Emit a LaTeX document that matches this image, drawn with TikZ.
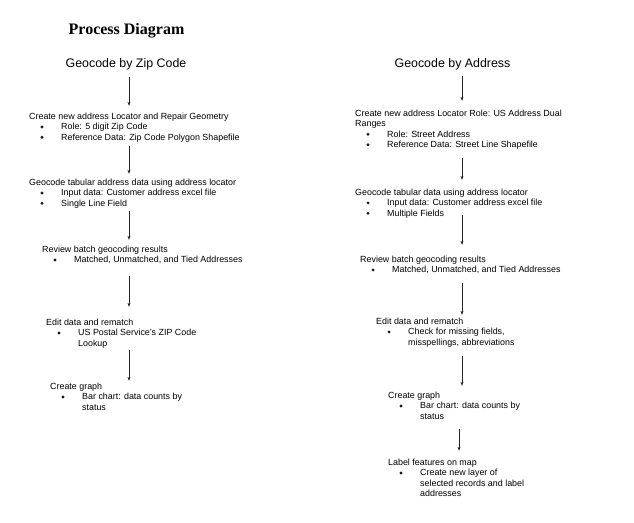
\documentclass[tikz,border=0pt]{standalone}
\usepackage{fontspec}
\setmainfont{Liberation Sans}
\newfontfamily\titlefont{Liberation Serif}
\usetikzlibrary{arrows.meta}
\newcommand\bitem[1]{\hspace*{32pt}#1}
\newcommand\bcont[1]{\hspace*{32pt}#1}
\newcommand\blines[1]{\begin{tabular}[t]{@{}l@{}}#1\end{tabular}}
\begin{document}
\begin{tikzpicture}[x=1pt,y=-1pt,
  blk/.style={anchor=base west, inner sep=0pt, font=\fontsize{8.9}{10.4}\selectfont},
  hd/.style={anchor=base, inner sep=0pt, font=\fontsize{12.4}{14}\selectfont},
  ttl/.style={anchor=base, inner sep=0pt, font=\titlefont\bfseries\fontsize{16}{18}\selectfont},
  bul/.style={fill=black!90},
  arr/.style={draw=black!85, line width=0.6pt, -{Stealth[length=4pt,width=3pt]}}]
\useasboundingbox (0,0) rectangle (634,522);
\fill[white] (0,0) rectangle (634,522);

\node[ttl] (title) at (126.5,34) {Process Diagram};

\coordinate (xL) at (129,0);
\coordinate (xR) at (462,0);
\coordinate (xR2) at (459,0);

% Left column
\node[hd] (hL) at (126,67) {Geocode by Zip Code};
\node[blk] (bL1) at (29,119.5) {\blines{Create new address Locator and Repair Geometry\\
  \bitem{Role: 5 digit Zip Code}\\
  \bitem{Reference Data: Zip Code Polygon Shapefile}}};
\node[blk] (bL2) at (29,185.5) {\blines{Geocode tabular address data using address locator\\
  \bitem{Input data: Customer address excel file}\\
  \bitem{Single Line Field}}};
\node[blk] (bL3) at (42,252.5) {\blines{Review batch geocoding results\\
  \bitem{Matched, Unmatched, and Tied Addresses}}};
\node[blk] (bL4) at (46,325.5) {\blines{Edit data and rematch\\
  \bitem{US Postal Service's ZIP Code}\\
  \bcont{Lookup}}};
\node[blk] (bL5) at (50,389.5) {\blines{Create graph\\
  \bitem{Bar chart: data counts by}\\
  \bcont{status}}};

\foreach \b/\n in {bL1/1,bL1/2,bL2/1,bL2/2,bL3/1,bL4/1,bL5/1}
  \fill[bul] ([shift={(13,-3+10.4*\n)}]\b.base west) circle (1.6pt);

\draw[arr, shorten <=7.4pt, shorten >=6.2pt] (hL.south -| xL) -- (bL1.north -| xL);
\draw[arr, shorten <=2.6pt, shorten >=4.2pt] (bL1.south -| xL) -- (bL2.north -| xL);
\draw[arr, shorten <=1.6pt, shorten >=5.2pt] (bL2.south -| xL) -- (bL3.north -| xL);
\draw[arr, shorten <=10pt, shorten >=11.2pt] (bL3.south -| xL) -- (bL4.north -| xL);
\draw[arr, shorten <=0.6pt, shorten >=1.2pt] (bL4.south -| xL) -- (bL5.north -| xL);

% Right column
\node[hd] (hR) at (452.5,67) {Geocode by Address};
\node[blk] (bR1) at (355,116.5) {\blines{Create new address Locator Role: US Address Dual\\
  Ranges\\
  \bitem{Role: Street Address}\\
  \bitem{Reference Data: Street Line Shapefile}}};
\node[blk] (bR2) at (355,195.5) {\blines{Geocode tabular data using address locator\\
  \bitem{Input data: Customer address excel file}\\
  \bitem{Multiple Fields}}};
\node[blk] (bR3) at (360,262.5) {\blines{Review batch geocoding results\\
  \bitem{Matched, Unmatched, and Tied Addresses}}};
\node[blk] (bR4) at (376,324.5) {\blines{Edit data and rematch\\
  \bitem{Check for missing fields,}\\
  \bcont{misspellings, abbreviations}}};
\node[blk] (bR5) at (388,398.5) {\blines{Create graph\\
  \bitem{Bar chart: data counts by}\\
  \bcont{status}}};
\node[blk] (bR6) at (388,465.5) {\blines{Label features on map\\
  \bitem{Create new layer of}\\
  \bcont{selected records and label}\\
  \bcont{addresses}}};

\foreach \b/\n in {bR1/2,bR1/3,bR2/1,bR2/2,bR3/1,bR4/1,bR5/1,bR6/1}
  \fill[bul] ([shift={(13,-3+10.4*\n)}]\b.base west) circle (1.6pt);

\draw[arr, shorten <=6.4pt, shorten >=8.2pt] (hR.south -| xR) -- (bR1.north -| xR);
\draw[arr, shorten <=7.2pt, shorten >=8.2pt] (bR1.south -| xR) -- (bR2.north -| xR);
\draw[arr, shorten <=-4.4pt, shorten >=10.2pt] (bR2.south -| xR) -- (bR3.north -| xR);
\draw[arr, shorten <=7pt, shorten >=2.2pt] (bR3.south -| xR) -- (bR4.north -| xR);
\draw[arr, shorten <=7.6pt, shorten >=5.2pt] (bR4.south -| xR) -- (bR5.north -| xR);
\draw[arr, shorten <=6.6pt, shorten >=7.2pt] (bR5.south -| xR2) -- (bR6.north -| xR2);
\end{tikzpicture}
\end{document}
